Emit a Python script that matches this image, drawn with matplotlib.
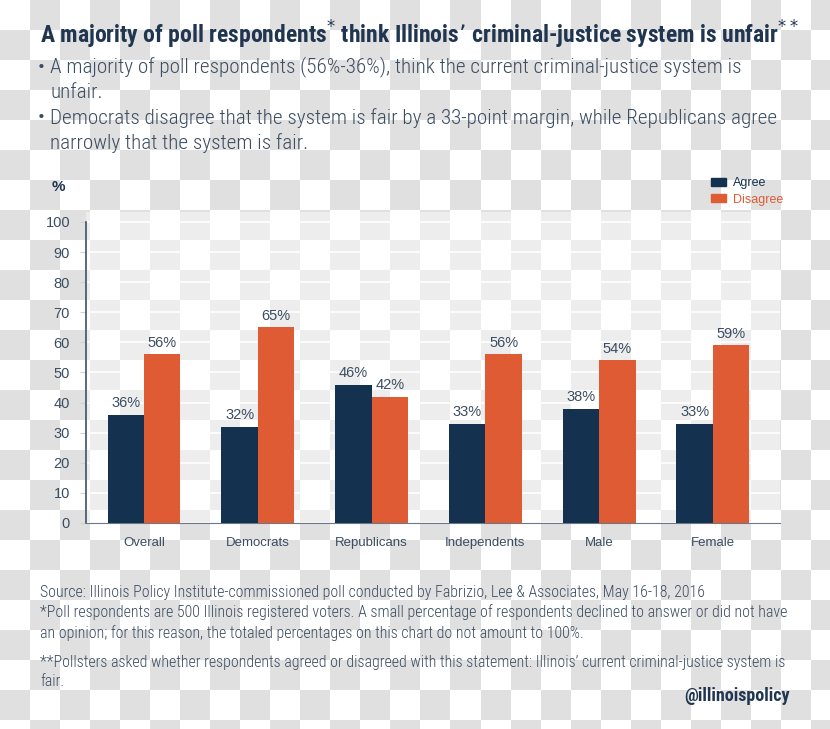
import numpy as np
import matplotlib
matplotlib.use("Agg")
import matplotlib.pyplot as plt
from matplotlib.patches import Patch

# ---- data ----
categories = ["Overall", "Democrats", "Republicans", "Independents", "Male", "Female"]
agree = [36, 32, 46, 33, 38, 33]
disagree = [56, 65, 42, 56, 54, 59]
yticks = [0, 10, 20, 30, 40, 50, 60, 70, 80, 90, 100]

NAVY = "#14314f"
ORANGE = "#df5b34"
TXT = "#3b4d61"
TITLE = "#1f3550"

W, H = 830, 729
fig = plt.figure(figsize=(W / 100, H / 100), dpi=100)

# checkerboard background (transparent-look)
bg = fig.add_axes([0, 0, 1, 1], zorder=-10)
sq = 30
nr, nc = H // sq + 1, W // sq + 1
rr, cc = np.mgrid[0:nr, 0:nc]
board = np.where((rr + cc) % 2 == 1, 0.875, 1.0)
bg.imshow(board, cmap="gray", vmin=0, vmax=1, extent=(0, nc * sq, nr * sq, 0),
          interpolation="nearest", aspect="auto")
bg.set_xlim(0, W)
bg.set_ylim(H, 0)
bg.axis("off")

narrow = ["Roboto Condensed", "IBM Plex Sans Condensed", "Open Sans Condensed", "DejaVu Sans"]
reg = ["Liberation Sans", "DejaVu Sans"]

def px(x, y):
    return x / W, 1 - y / H

# ---- titles ----
fig.text(*px(40, 35), "A majority of poll respondents$^{*}$ think Illinois’ criminal-justice system is unfair$^{**}$",
         family=narrow, weight="bold", fontsize=17, color=TITLE, va="center", ha="left")
bul = [(67, True, "A majority of poll respondents (56%-36%), think the current criminal-justice system is"),
       (92, False, "unfair."),
       (118, True, "Democrats disagree that the system is fair by a 33-point margin, while Republicans agree"),
       (143, False, "narrowly that the system is fair.")]
for y, b, t in bul:
    if b:
        fig.text(*px(38, y), "•", family=narrow, fontsize=15, color=TXT, va="center", ha="left")
    fig.text(*px(50, y), t, family=narrow, weight="light", fontsize=15.2, color=TXT, va="center", ha="left")

# ---- chart ----
ax_l, ax_r, ax_b, ax_t = 86, 780, 523, 212
ax = fig.add_axes([ax_l / W, 1 - ax_b / H, (ax_r - ax_l) / W, (ax_b - ax_t) / H])
ax.set_facecolor((1, 1, 1, 0.45))
x = np.arange(len(categories))
bw = 0.32
ax.bar(x - bw / 2, agree, bw, color=NAVY, zorder=3)
ax.bar(x + bw / 2, disagree, bw, color=ORANGE, zorder=3)
for xi, a, d in zip(x, agree, disagree):
    ax.text(xi - bw / 2, a + 1.5, f"{a}%", ha="center", va="bottom", fontsize=10.5,
            family=reg, color=TXT, zorder=4)
    ax.text(xi + bw / 2, d + 1.5, f"{d}%", ha="center", va="bottom", fontsize=10.5,
            family=reg, color=TXT, zorder=4)

ax.set_xlim(-0.51, 5.59)
ax.set_ylim(0, 103.3)
ax.set_yticks(yticks)
ax.set_yticklabels([str(v) for v in yticks], family=reg, fontsize=10.5, color=TXT)
ax.set_xticks(x)
ax.set_xticklabels(categories, family=reg, fontsize=9.5, color=TXT)
ax.tick_params(axis="x", length=0, pad=10)
ax.tick_params(axis="y", length=4, color="#d0d4d8", pad=7.5)
ax.yaxis.grid(True, color="white", lw=1.5, alpha=0.8, zorder=0)
ax.set_axisbelow(True)
for s in ["top", "right"]:
    ax.spines[s].set_visible(False)
ax.spines["left"].set_bounds(0, 100)
ax.spines["left"].set_color("#3f5064")
ax.spines["bottom"].set_color("#6a7888")
ax.spines["left"].set_linewidth(1.2)

fig.text(*px(58, 187), "%", family=reg, weight="bold", fontsize=11, color=TITLE, va="center", ha="center")

handles = [Patch(color=NAVY, label="Agree"), Patch(color=ORANGE, label="Disagree")]
leg = fig.legend(handles=handles, loc="upper left", bbox_to_anchor=px(700, 166),
                 frameon=False, prop={"family": reg, "size": 9}, handlelength=1.2,
                 handleheight=0.6, handletextpad=0.5, labelspacing=0.35)
leg.get_texts()[0].set_color(NAVY)
leg.get_texts()[1].set_color(ORANGE)

# ---- footnotes ----
foot = [(592, "Source: Illinois Policy Institute-commissioned poll conducted by Fabrizio, Lee & Associates, May 16-18, 2016"),
        (612, "*Poll respondents are 500 Illinois registered voters. A small percentage of respondents declined to answer or did not have"),
        (633, "an opinion; for this reason, the totaled percentages on this chart do not amount to 100%."),
        (662, "**Pollsters asked whether respondents agreed or disagreed with this statement: Illinois’ current criminal-justice system is"),
        (681, "fair.")]
for y, t in foot:
    fig.text(*px(40, y), t, family=narrow, weight="light", fontsize=11.4, color=TXT, va="center", ha="left")
fig.text(*px(790, 696), "@illinoispolicy", family=narrow, weight="bold", fontsize=13,
         color=TITLE, va="center", ha="right")

fig.savefig("out.png", dpi=100)
